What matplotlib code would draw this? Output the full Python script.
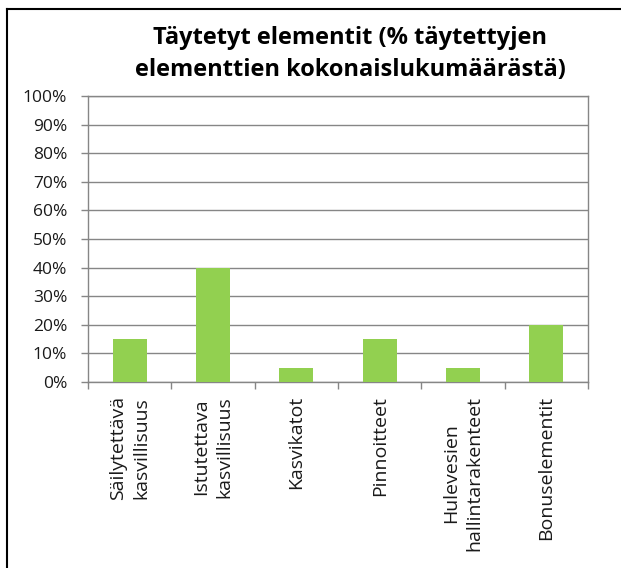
import matplotlib.pyplot as plt
from matplotlib.lines import Line2D
from matplotlib.ticker import FixedLocator, FuncFormatter

categories = ["Säilytettävä\nkasvillisuus", "Istutettava\nkasvillisuus", "Kasvikatot",
              "Pinnoitteet", "Hulevesien\nhallintarakenteet", "Bonuselementit"]
values = [15, 40, 5, 15, 5, 20]
title = "Täytetyt elementit (% täytettyjen\nelementtien kokonaislukumäärästä)"

plt.rcParams['font.family'] = ['Open Sans', 'DejaVu Sans']

fig = plt.figure(figsize=(6.21, 5.68), dpi=100)
ax = fig.add_axes([88 / 621, 1 - 382 / 568, 500 / 621, 286 / 568])

x = range(len(categories))
ax.bar(x, values, width=0.41, color='#92D050', zorder=3)

ax.set_xlim(-0.5, len(categories) - 0.5)
ax.set_ylim(0, 100)
ax.set_yticks(range(0, 101, 10))
ax.yaxis.set_major_formatter(FuncFormatter(lambda v, p: f"{int(v)}%"))
ax.grid(axis='y', color='#868686', linewidth=1, zorder=0)

ax.set_xticks(list(x))
ax.set_xticklabels(categories, rotation=90, ha='center', va='top',
                   multialignment='center', fontsize=14, color='#1a1a1a',
                   linespacing=1.4)
ax.xaxis.set_minor_locator(FixedLocator([i - 0.5 for i in range(len(categories) + 1)]))
ax.tick_params(axis='x', which='major', length=0, pad=10)
ax.tick_params(axis='x', which='minor', length=5, width=1, color='#868686')
ax.tick_params(axis='y', length=5, width=1, color='#868686', labelsize=12.5,
               labelcolor='#1a1a1a', pad=10)

for side in ['left', 'bottom', 'right', 'top']:
    ax.spines[side].set_color('#868686')
    ax.spines[side].set_linewidth(1)

fig.text(350 / 621, 1 - 54 / 568, title, ha='center', va='center',
         fontsize=17, fontweight='bold', linespacing=1.42)

# outer frame of the chart
fig.add_artist(Line2D([7 / 621, 7 / 621], [0, 1 - 9 / 568], color='black', linewidth=1.5))
fig.add_artist(Line2D([7 / 621, 1], [1 - 9 / 568, 1 - 9 / 568], color='black', linewidth=1.5))

fig.savefig("out.png", dpi=100)
